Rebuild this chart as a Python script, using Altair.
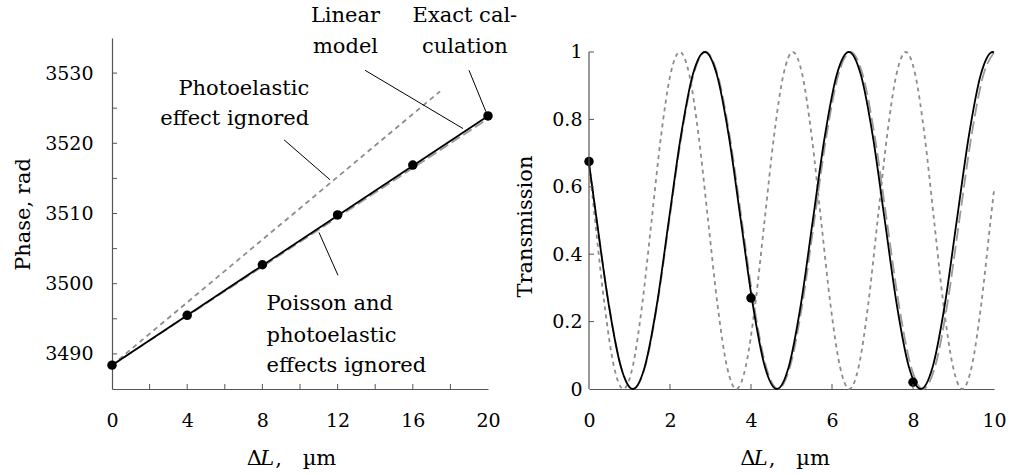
import altair as alt
import pandas as pd

FONT = "DejaVu Serif"
FS = 21      # annotation / title size
LFS = 19     # tick label size
AX = "#555555"

# ---------------- Left panel: phase vs ΔL ----------------
exact_x = [0, 4, 8, 12, 16, 20]
exact_phase = [3488.4, 3495.5, 3502.7, 3509.8, 3516.9, 3523.9]
linear_x = [0, 20]
linear_phase = [3488.4, 3523.9]
poisson_x = [0, 20]
poisson_phase = [3488.4, 3523.5]
photo_x = [0, 17.45]
photo_phase = [3488.4, 3527.4]

left_xticks = [2, 4, 6, 8, 10, 12, 14, 16, 18]
left_yticks = [3490, 3495, 3500, 3505, 3510, 3515, 3520, 3525, 3530]
left_xlabels = [0, 4, 8, 12, 16, 20]
left_ylabels = [3490, 3500, 3510, 3520, 3530]

ann_right_text = ["Photoelastic", "effect ignored"]
ann_right_x = [10.49, 10.49]
ann_right_y = [3526.9, 3522.6]
ann_center_text = ["Linear", "model", "Exact cal-", "culation"]
ann_center_x = [12.42, 12.42, 18.77, 18.77]
ann_center_y = [3537.3, 3532.9, 3537.3, 3532.9]
ann_left_text = ["Poisson and", "photoelastic", "effects ignored"]
ann_left_x = [8.22, 8.22, 8.22]
ann_left_y = [3496.3, 3491.7, 3487.4]

lead_x1 = [9.15, 13.46, 18.99, 11.01]
lead_y1 = [3520.5, 3530.4, 3530.4, 3507.3]
lead_x2 = [11.6, 18.67, 19.89, 12.02]
lead_y2 = [3514.8, 3522.1, 3524.5, 3501.2]

# ---------------- Right panel: transmission vs ΔL ----------------
lin_tx = [0, 0.1915, 0.488, 0.7845, 1.0825, 1.379, 1.675, 1.971, 2.268, 2.564, 2.86,
          3.156, 3.453, 3.749, 4.045, 4.341, 4.638, 4.934, 5.23, 5.526, 5.823, 6.119,
          6.415, 6.711, 7.008, 7.304, 7.6, 7.896, 8.193, 8.489, 8.785, 9.081, 9.378,
          9.674, 9.97, 10]
lin_ty = [0.67, 0.5, 0.25, 0.067, 0, 0.067, 0.25, 0.5, 0.75, 0.933, 1,
          0.933, 0.75, 0.5, 0.25, 0.067, 0, 0.067, 0.25, 0.5, 0.75, 0.933,
          1, 0.933, 0.75, 0.5, 0.25, 0.067, 0, 0.067, 0.25, 0.5, 0.75,
          0.933, 1, 0.999]
pois_tx = [0, 0.193, 0.492, 0.790, 1.088, 1.387, 1.685, 1.983, 2.282, 2.580, 2.878,
           3.177, 3.475, 3.773, 4.072, 4.370, 4.668, 4.967, 5.265, 5.563, 5.862, 6.160,
           6.458, 6.757, 7.055, 7.353, 7.652, 7.950, 8.248, 8.547, 8.845, 9.143, 9.442,
           9.740, 10.0]
pois_ty = [0.67, 0.5, 0.25, 0.067, 0, 0.067, 0.25, 0.5, 0.75, 0.933, 1,
           0.933, 0.75, 0.5, 0.25, 0.067, 0, 0.067, 0.25, 0.5, 0.75, 0.933,
           1, 0.933, 0.75, 0.5, 0.25, 0.067, 0, 0.067, 0.25, 0.5, 0.75,
           0.933, 0.998]
photo_tx = [0, 0.1505, 0.383, 0.6155, 0.848, 1.0805, 1.313, 1.5455, 1.778, 2.0105, 2.243,
            2.4755, 2.708, 2.9405, 3.173, 3.4055, 3.638, 3.8705, 4.103, 4.3355, 4.568,
            4.8005, 5.033, 5.2655, 5.498, 5.7305, 5.963, 6.1955, 6.428, 6.6605, 6.893,
            7.1255, 7.358, 7.5905, 7.823, 8.0555, 8.288, 8.5205, 8.753, 8.9855, 9.218,
            9.4505, 9.683, 9.9155, 10]
photo_ty = [0.67, 0.5, 0.25, 0.067, 0, 0.067, 0.25, 0.5, 0.75, 0.933, 1,
            0.933, 0.75, 0.5, 0.25, 0.067, 0, 0.067, 0.25, 0.5, 0.75,
            0.933, 1, 0.933, 0.75, 0.5, 0.25, 0.067, 0, 0.067, 0.25,
            0.5, 0.75, 0.933, 1, 0.933, 0.75, 0.5, 0.25, 0.067, 0,
            0.067, 0.25, 0.5, 0.59]
exact_tx = [0, 4, 8]
exact_ty = [0.675, 0.27, 0.02]

right_xticks = [2, 4, 6, 8]
right_yticks = [0.2, 0.4, 0.6, 0.8, 1.0]
right_xlabels = [0, 2, 4, 6, 8, 10]
right_ylabels = [0, 0.2, 0.4, 0.6, 0.8, 1]

W_L, W_R, H = 376, 405, 351

# ---------------- Left panel build ----------------
xs_l = alt.Scale(domain=[0, 20], nice=False)
ys_l = alt.Scale(domain=[3485, 3535], nice=False, zero=False)

x_axis_l = alt.Axis(values=left_xlabels, ticks=False, tickSize=0, labelPadding=22,
                    labelFlush=False, title=None, grid=False, domainColor=AX,
                    domainWidth=1.2, labelFont=FONT, labelFontSize=LFS,
                    labelColor="black")
y_axis_l = alt.Axis(values=left_ylabels, format="d", ticks=False, tickSize=0,
                    labelPadding=19, labelFlush=False, grid=False, domainColor=AX,
                    domainWidth=1.2, labelFont=FONT, labelFontSize=LFS,
                    labelColor="black",
                    title="Phase, rad", titleFont=FONT, titleFontSize=FS,
                    titleColor="black", titleFontWeight="normal", titleX=-82.5,
                    titleY=176, titleAlign="center", titleBaseline="alphabetic",
                    titleAngle=270)

df_lin = pd.DataFrame({"x": linear_x, "y": linear_phase})
df_pois = pd.DataFrame({"x": poisson_x, "y": poisson_phase})
df_photo = pd.DataFrame({"x": photo_x, "y": photo_phase})
df_exact = pd.DataFrame({"x": exact_x, "y": exact_phase})

photo_line = alt.Chart(df_photo).mark_line(color="#8c8c8c", strokeWidth=1.8,
                                            strokeDash=[5, 4]).encode(
    x=alt.X("x:Q", scale=xs_l, axis=x_axis_l),
    y=alt.Y("y:Q", scale=ys_l, axis=y_axis_l))
pois_line = alt.Chart(df_pois).mark_line(color="#9a9a9a", strokeWidth=1.8,
                                          strokeDash=[10, 4]).encode(
    x=alt.X("x:Q", scale=xs_l), y=alt.Y("y:Q", scale=ys_l))
lin_line = alt.Chart(df_lin).mark_line(color="black", strokeWidth=1.8).encode(
    x=alt.X("x:Q", scale=xs_l), y=alt.Y("y:Q", scale=ys_l))
exact_pts = alt.Chart(df_exact).mark_circle(color="black", size=90, opacity=1).encode(
    x=alt.X("x:Q", scale=xs_l), y=alt.Y("y:Q", scale=ys_l))

df_lead = pd.DataFrame({"x": lead_x1, "y": lead_y1, "x2": lead_x2, "y2": lead_y2})
leaders = alt.Chart(df_lead).mark_rule(color="black", strokeWidth=1).encode(
    x=alt.X("x:Q", scale=xs_l), y=alt.Y("y:Q", scale=ys_l), x2="x2:Q", y2="y2:Q")

def texts(df, align):
    return alt.Chart(df).mark_text(align=align, baseline="alphabetic", font=FONT,
                                   fontSize=FS, color="black").encode(
        x=alt.X("x:Q", scale=xs_l), y=alt.Y("y:Q", scale=ys_l), text="t:N")

t_r = texts(pd.DataFrame({"x": ann_right_x, "y": ann_right_y, "t": ann_right_text}), "right")
t_c = texts(pd.DataFrame({"x": ann_center_x, "y": ann_center_y, "t": ann_center_text}), "center")
t_lf = texts(pd.DataFrame({"x": ann_left_x, "y": ann_left_y, "t": ann_left_text}), "left")

xt_l = alt.Chart(pd.DataFrame({"v": left_xticks})).mark_rule(color=AX, strokeWidth=1).encode(
    x=alt.X("v:Q", scale=xs_l), y=alt.value(H), y2=alt.value(H - 5))
yt_l = alt.Chart(pd.DataFrame({"v": left_yticks})).mark_rule(color=AX, strokeWidth=1).encode(
    y=alt.Y("v:Q", scale=ys_l), x=alt.value(0), x2=alt.value(5))

def xtitle(dx):
    parts = [("Δ", 0, "normal"), ("L", 13.5, "italic"), (",", 28.5, "normal"), ("µm", 56, "normal")]
    layers = []
    for txt, off, style in parts:
        layers.append(alt.Chart(pd.DataFrame({"t": [txt]})).mark_text(
            align="left", baseline="alphabetic", font=FONT, fontSize=FS,
            fontStyle=style, color="black").encode(
            x=alt.value(dx + off), y=alt.value(H + 76), text="t:N"))
    return layers

left = alt.layer(photo_line, pois_line, lin_line, leaders, exact_pts, xt_l, yt_l,
                 t_r, t_c, t_lf, *xtitle(134.7)).properties(width=W_L, height=H)

# ---------------- Right panel build ----------------
xs_r = alt.Scale(domain=[0, 10], nice=False)
ys_r = alt.Scale(domain=[0, 1.0415], nice=False)

x_axis_r = alt.Axis(values=right_xlabels, ticks=False, tickSize=0, labelPadding=22,
                    labelFlush=False, title=None, grid=False, domainColor=AX,
                    domainWidth=1.2, labelFont=FONT, labelFontSize=LFS,
                    labelColor="black")
y_axis_r = alt.Axis(values=right_ylabels, format="~g", ticks=False, tickSize=0,
                    labelPadding=7, labelFlush=False, grid=False, domain=False,
                    labelFont=FONT, labelFontSize=LFS, labelColor="black",
                    title="Transmission", titleFont=FONT, titleFontSize=FS,
                    titleColor="black", titleFontWeight="normal", titleX=-58,
                    titleY=188, titleAlign="center", titleBaseline="alphabetic",
                    titleAngle=270)

photo_c = alt.Chart(pd.DataFrame({"x": photo_tx, "y": photo_ty})).mark_line(
    color="#8c8c8c", strokeWidth=1.8, strokeDash=[4, 4], interpolate="monotone").encode(
    x=alt.X("x:Q", scale=xs_r, axis=x_axis_r),
    y=alt.Y("y:Q", scale=ys_r, axis=y_axis_r))
pois_c = alt.Chart(pd.DataFrame({"x": pois_tx, "y": pois_ty})).mark_line(
    color="#9a9a9a", strokeWidth=1.8, strokeDash=[13, 5], interpolate="monotone").encode(
    x=alt.X("x:Q", scale=xs_r), y=alt.Y("y:Q", scale=ys_r))
lin_c = alt.Chart(pd.DataFrame({"x": lin_tx, "y": lin_ty})).mark_line(
    color="black", strokeWidth=1.8, interpolate="monotone").encode(
    x=alt.X("x:Q", scale=xs_r), y=alt.Y("y:Q", scale=ys_r))
exact_c = alt.Chart(pd.DataFrame({"x": exact_tx, "y": exact_ty})).mark_circle(
    color="black", size=90, opacity=1).encode(
    x=alt.X("x:Q", scale=xs_r), y=alt.Y("y:Q", scale=ys_r))

yline_r = alt.Chart(pd.DataFrame({"a": [0], "b": [1], "x": [0]})).mark_rule(
    color=AX, strokeWidth=1.2).encode(
    x=alt.X("x:Q", scale=xs_r), y=alt.Y("a:Q", scale=ys_r), y2="b:Q")
xt_r = alt.Chart(pd.DataFrame({"v": right_xticks})).mark_rule(color=AX, strokeWidth=1).encode(
    x=alt.X("v:Q", scale=xs_r), y=alt.value(H), y2=alt.value(H - 5))
yt_r = alt.Chart(pd.DataFrame({"v": right_yticks})).mark_rule(color=AX, strokeWidth=1).encode(
    y=alt.Y("v:Q", scale=ys_r), x=alt.value(0), x2=alt.value(5))

right = alt.layer(photo_c, pois_c, lin_c, exact_c, yline_r, xt_r, yt_r,
                  *xtitle(151.3)).properties(width=W_R, height=H)

chart = alt.hconcat(left, right, spacing=101, bounds="flush").properties(
    padding={"left": 12, "top": 4, "right": 2, "bottom": 2},
    background="white"
).configure_view(strokeWidth=0)

chart.save("out.html", embed_options={"renderer": "svg", "actions": False})
